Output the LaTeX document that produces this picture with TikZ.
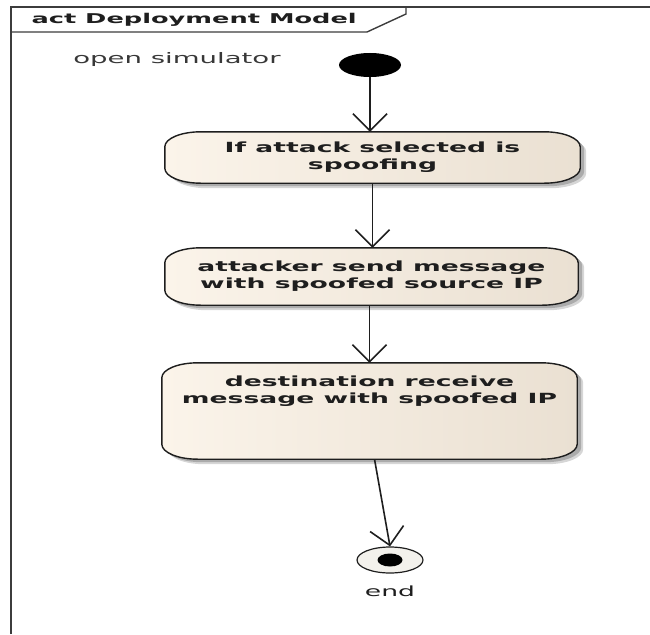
\documentclass[tikz,border=0pt]{standalone}
\usepackage{fontspec}
\setmainfont[FakeStretch=1.9]{DejaVu Sans}
\usetikzlibrary{arrows.meta,shapes.geometric,backgrounds}
\definecolor{frameline}{HTML}{3C3C3C}
\definecolor{actleft}{HTML}{FBF4EA}
\definecolor{actright}{HTML}{EAE0D2}
\definecolor{inkdark}{HTML}{1E1E1E}
\definecolor{labelgray}{HTML}{383838}
\definecolor{ringfill}{HTML}{F3F1EC}
\definecolor{shadowsoft}{HTML}{D6D6D6}
\definecolor{shadowdark}{HTML}{ABABAB}

% outline of an action: rectangle with elliptic corners, built from the node anchors
\newcommand\actoutline[1]{([xshift=36pt]#1.north west) -- ([xshift=-36pt]#1.north east)
  arc[start angle=90,end angle=0,x radius=36pt,y radius=15pt] -- ([yshift=15pt]#1.south east)
  arc[start angle=0,end angle=-90,x radius=36pt,y radius=15pt] -- ([xshift=36pt]#1.south west)
  arc[start angle=270,end angle=180,x radius=36pt,y radius=15pt] -- ([yshift=-15pt]#1.north west)
  arc[start angle=180,end angle=90,x radius=36pt,y radius=15pt] -- cycle}

% drop shadow, shaded fill and border of one action
\newcommand\actbox[1]{%
  \fill[shadowsoft, transform canvas={shift={(6pt,-5pt)}}] \actoutline{#1};
  \fill[shadowdark, transform canvas={shift={(4pt,-3pt)}}] \actoutline{#1};
  \path[draw=inkdark, line width=1.4pt, left color=actleft, right color=actright] \actoutline{#1};}

\tikzset{
  actnode/.style={inner sep=0pt, align=center, text=inkdark,
    font=\bfseries\fontsize{14}{17}\selectfont},
  flow/.style={draw=inkdark, line width=1.6pt, -{Straight Barb[length=17pt,width=34pt]}},
  dotnode/.style={ellipse, fill=black, inner sep=0pt},
}

\begin{document}
\begin{tikzpicture}[x=1pt, y=-1pt]
  \useasboundingbox (0,0) rectangle (650,634);

  % diagram frame and its name tab
  \draw[frameline, line width=2pt] (11,634) -- (11,7) -- (650,7);
  \draw[frameline, line width=1.4pt] (11,32) -- (367,32) -- (406,14) -- (406,7);
  \node[anchor=west, text=inkdark, font=\bfseries\fontsize{13.5}{16}\selectfont]
    (title) at (28,20) {act Deployment Model};

  % initial node
  \node[dotnode, minimum width=62pt, minimum height=24pt] (start) at (370,65) {};
  \node[text=labelgray, font=\fontsize{14.5}{17}\selectfont] (opensim) at (177,59) {open simulator};

  % actions
  \node[actnode, minimum width=415pt, minimum height=51pt] (n1) at (372.5,157.5)
    {If attack selected is\\spoofing};
  \node[actnode, minimum width=413pt, minimum height=57pt] (n2) at (371.5,276.5)
    {attacker send message\\with spoofed source IP};
  \node[actnode, minimum width=415pt, minimum height=96pt] (n3) at (369.5,411) {};
  \node[actnode, anchor=north, yshift=-13pt] (n3t) at (n3.north)
    {destination receive\\message with spoofed IP};

  \begin{pgfonlayer}{background}
    \actbox{n1}
    \actbox{n2}
    \actbox{n3}
  \end{pgfonlayer}

  % final node
  \node[ellipse, draw=inkdark, fill=ringfill, line width=1.2pt,
        minimum width=66pt, minimum height=26pt, inner sep=0pt] (fin) at (390,560) {};
  \node[dotnode, minimum width=25pt, minimum height=13pt] (findot) at (fin) {};
  \node[text=inkdark, font=\fontsize{14}{17}\selectfont] (endlbl) at (390,591) {end};

  % control flows
  \draw[flow] (start) -- (start |- n1.north);
  \draw[flow] (n1.south) -- (n1.south |- n2.north);
  \draw[flow] (n3.north |- n2.south) -- (n3.north);
  \draw[flow] ([xshift=5pt]n3.south) -- (fin.north);
\end{tikzpicture}
\end{document}
